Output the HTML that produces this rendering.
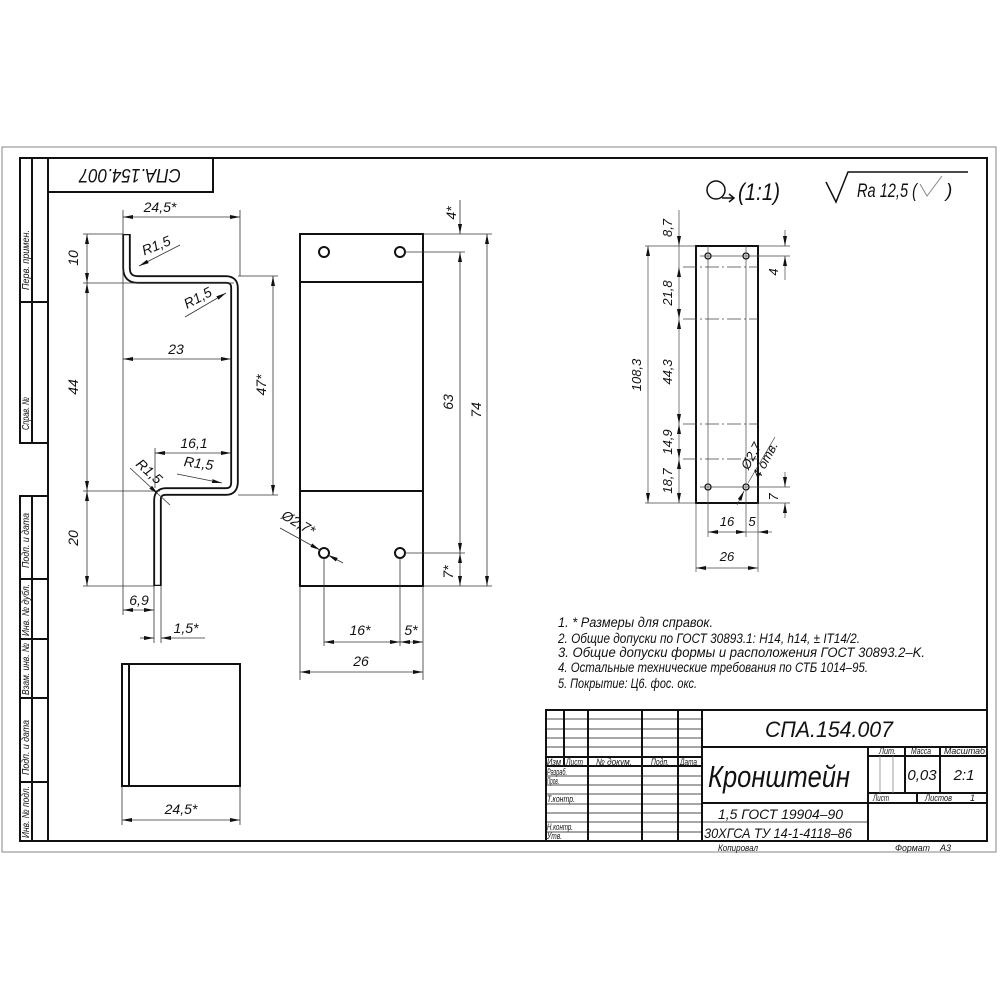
<!DOCTYPE html>
<html><head><meta charset="utf-8"><style>
html,body{margin:0;padding:0;background:#fff;width:1000px;height:1000px;overflow:hidden}
svg{display:block}
text{font-family:"Liberation Sans Narrow","Liberation Sans","Noto Sans CJK SC",sans-serif;font-style:italic;fill:#111}
</style></head><body>
<svg width="1000" height="1000" viewBox="0 0 1000 1000" xmlns="http://www.w3.org/2000/svg">
<defs>
<marker id="a" viewBox="0 0 10 4" refX="10" refY="2" markerWidth="10" markerHeight="4" markerUnits="userSpaceOnUse" orient="auto-start-reverse"><path d="M0,0 L10,2 L0,4z" fill="#111"/></marker>
</defs>
<rect x="2" y="147" width="994" height="705" fill="none" stroke="#999" stroke-width="1.2"/>
<g stroke="#111" fill="none" stroke-width="2">
<rect x="48" y="158" width="939" height="683"/>
<rect x="48" y="158" width="165" height="34"/>
<rect x="20" y="158" width="28" height="285"/>
<line x1="32" y1="158" x2="32" y2="443"/>
<line x1="20" y1="302" x2="48" y2="302"/>
<rect x="20" y="496" width="28" height="345"/>
<line x1="32" y1="496" x2="32" y2="841"/>
<line x1="20" y1="579" x2="48" y2="579"/>
<line x1="20" y1="639" x2="48" y2="639"/>
<line x1="20" y1="698" x2="48" y2="698"/>
<line x1="20" y1="782" x2="48" y2="782"/>
</g>
<g font-size="10">
<text transform="translate(29,290) rotate(-90)" textLength="60" lengthAdjust="spacingAndGlyphs">Перв. примен.</text>
<text transform="translate(29,430) rotate(-90)" textLength="33" lengthAdjust="spacingAndGlyphs">Справ. №</text>
<text transform="translate(29,568) rotate(-90)" textLength="55" lengthAdjust="spacingAndGlyphs">Подп. и дата</text>
<text transform="translate(29,636) rotate(-90)" textLength="52" lengthAdjust="spacingAndGlyphs">Инв. № дубл.</text>
<text transform="translate(29,695) rotate(-90)" textLength="52" lengthAdjust="spacingAndGlyphs">Взам. инв. №</text>
<text transform="translate(29,775) rotate(-90)" textLength="55" lengthAdjust="spacingAndGlyphs">Подп. и дата</text>
<text transform="translate(29,838) rotate(-90)" textLength="52" lengthAdjust="spacingAndGlyphs">Инв. № подл.</text>
</g>
<text transform="translate(181,169) rotate(180)" font-size="19" textLength="102" lengthAdjust="spacingAndGlyphs">СПА.154.007</text>

<path d="M126.5,234 V268 Q126.5,279.5 138,279.5 H226 Q234.5,279.5 234.5,288 V482 Q234.5,491.5 226,491.5 H166 Q157.5,491.5 157.5,500 V586" fill="none" stroke="#111" stroke-width="8.5"/>
<path d="M126.5,235.2 V268 Q126.5,279.5 138,279.5 H226 Q234.5,279.5 234.5,288 V482 Q234.5,491.5 226,491.5 H166 Q157.5,491.5 157.5,500 V584.8" fill="none" stroke="#fff" stroke-width="4.8"/>
<g stroke="#333" stroke-width="0.8" fill="none">
<line x1="123" y1="210" x2="123" y2="615"/>
<line x1="240" y1="210" x2="240" y2="276"/>
<line x1="83" y1="234" x2="123" y2="234"/>
<line x1="83" y1="283" x2="234" y2="283"/>
<line x1="238" y1="276" x2="278" y2="276"/>
<line x1="238" y1="495" x2="278" y2="495"/>
<line x1="83" y1="491" x2="160" y2="491"/>
<line x1="83" y1="586" x2="155" y2="586"/>
<line x1="155" y1="448" x2="155" y2="488"/>
<line x1="154" y1="586" x2="154" y2="643"/>
<line x1="161" y1="586" x2="161" y2="643"/>
<line x1="122" y1="786" x2="122" y2="825"/>
<line x1="240" y1="786" x2="240" y2="825"/>
<line x1="123" y1="217" x2="240" y2="217" marker-start="url(#a)" marker-end="url(#a)"/>
<line x1="87" y1="234" x2="87" y2="283" marker-start="url(#a)" marker-end="url(#a)"/>
<line x1="87" y1="283" x2="87" y2="491" marker-start="url(#a)" marker-end="url(#a)"/>
<line x1="87" y1="491" x2="87" y2="586" marker-start="url(#a)" marker-end="url(#a)"/>
<line x1="123" y1="359" x2="231" y2="359" marker-start="url(#a)" marker-end="url(#a)"/>
<line x1="273" y1="276" x2="273" y2="495" marker-start="url(#a)" marker-end="url(#a)"/>
<line x1="155" y1="453" x2="231" y2="453" marker-start="url(#a)" marker-end="url(#a)"/>
<line x1="123" y1="610" x2="154" y2="610" marker-start="url(#a)" marker-end="url(#a)"/>
<line x1="140" y1="638" x2="154" y2="638" marker-end="url(#a)"/>
<line x1="205" y1="638" x2="161" y2="638" marker-end="url(#a)"/>
<line x1="122" y1="820" x2="240" y2="820" marker-start="url(#a)" marker-end="url(#a)"/>
<line x1="180" y1="245" x2="139" y2="266" marker-end="url(#a)"/>
<line x1="185" y1="317" x2="226" y2="293" marker-end="url(#a)"/>
<line x1="177" y1="474" x2="222" y2="483" marker-end="url(#a)"/>
<line x1="130" y1="468" x2="158" y2="494" marker-end="url(#a)"/>
<line x1="158" y1="494" x2="170" y2="505"/>
</g>
<g font-size="14">
<text x="160" y="212" text-anchor="middle">24,5*</text>
<text transform="translate(158,250) rotate(-22)" text-anchor="middle">R1,5</text>
<text transform="translate(200,302) rotate(-28)" text-anchor="middle">R1,5</text>
<text transform="translate(198,468) rotate(8)" text-anchor="middle">R1,5</text>
<text transform="translate(146,475) rotate(42)" text-anchor="middle">R1,5</text>
<text transform="translate(78,258) rotate(-90)" text-anchor="middle">10</text>
<text transform="translate(78,387) rotate(-90)" text-anchor="middle">44</text>
<text transform="translate(78,538) rotate(-90)" text-anchor="middle">20</text>
<text transform="translate(266,385) rotate(-90)" text-anchor="middle">47*</text>
<text x="176" y="354" text-anchor="middle">23</text>
<text x="194" y="448" text-anchor="middle">16,1</text>
<text x="139" y="605" text-anchor="middle">6,9</text>
<text x="186" y="633" text-anchor="middle">1,5*</text>
<text x="181" y="814" text-anchor="middle">24,5*</text>
</g>
<g stroke="#111" stroke-width="2" fill="none">
<rect x="122" y="664" width="118" height="122"/>
<line x1="129" y1="664" x2="129" y2="786"/>
</g>

<g stroke="#111" stroke-width="2" fill="none">
<rect x="300" y="234" width="123" height="352"/>
<line x1="300" y1="282" x2="423" y2="282"/>
<line x1="300" y1="491" x2="423" y2="491"/>
<circle cx="324" cy="252" r="5"/><circle cx="400" cy="252" r="5"/>
<circle cx="324" cy="553" r="5"/><circle cx="400" cy="553" r="5"/>
</g>
<g stroke="#333" stroke-width="0.8" fill="none">
<line x1="423" y1="234" x2="492" y2="234"/>
<line x1="405" y1="252" x2="465" y2="252"/>
<line x1="405" y1="553" x2="465" y2="553"/>
<line x1="423" y1="586" x2="492" y2="586"/>
<line x1="460" y1="200" x2="460" y2="234" marker-end="url(#a)"/>
<line x1="460" y1="252" x2="460" y2="553" marker-start="url(#a)" marker-end="url(#a)"/>
<line x1="460" y1="553" x2="460" y2="586" marker-start="url(#a)" marker-end="url(#a)"/>
<line x1="487" y1="234" x2="487" y2="586" marker-start="url(#a)" marker-end="url(#a)"/>
<line x1="324" y1="558" x2="324" y2="646"/>
<line x1="400" y1="558" x2="400" y2="646"/>
<line x1="300" y1="586" x2="300" y2="680"/>
<line x1="423" y1="586" x2="423" y2="680"/>
<line x1="324" y1="642" x2="400" y2="642" marker-start="url(#a)" marker-end="url(#a)"/>
<line x1="400" y1="642" x2="423" y2="642" marker-start="url(#a)" marker-end="url(#a)"/>
<line x1="300" y1="672" x2="423" y2="672" marker-start="url(#a)" marker-end="url(#a)"/>
<line x1="280" y1="528" x2="320" y2="550" marker-end="url(#a)"/>
<line x1="343" y1="563" x2="328" y2="555" marker-end="url(#a)"/>
</g>
<g font-size="14">
<text transform="translate(456,213) rotate(-90)" text-anchor="middle">4*</text>
<text transform="translate(453,402) rotate(-90)" text-anchor="middle">63</text>
<text transform="translate(481,410) rotate(-90)" text-anchor="middle">74</text>
<text transform="translate(453,572) rotate(-90)" text-anchor="middle">7*</text>
<text x="360" y="635" text-anchor="middle">16*</text>
<text x="411" y="635" text-anchor="middle">5*</text>
<text x="361" y="666" text-anchor="middle">26</text>
<text transform="translate(296,527) rotate(30)" text-anchor="middle">Ø2,7*</text>
</g>

<g stroke="#111" stroke-width="2" fill="none">
<rect x="696" y="246" width="62" height="257"/>
</g>
<g stroke="#111" stroke-width="1.3" fill="none">
<circle cx="708" cy="256" r="3"/><circle cx="746" cy="256" r="3"/>
<circle cx="708" cy="487" r="3"/><circle cx="746" cy="487" r="3"/>
</g>
<g stroke="#444" stroke-width="0.7" fill="none">
<line x1="708" y1="246" x2="708" y2="537"/>
<line x1="746" y1="246" x2="746" y2="537"/>
<line x1="700" y1="256" x2="790" y2="256"/>
<line x1="700" y1="487" x2="790" y2="487"/>
<g stroke-dasharray="14,3,2,3">
<line x1="683" y1="267" x2="758" y2="267"/>
<line x1="683" y1="319" x2="758" y2="319"/>
<line x1="683" y1="424" x2="758" y2="424"/>
<line x1="683" y1="459" x2="758" y2="459"/>
</g>
<line x1="645" y1="246" x2="696" y2="246"/>
<line x1="645" y1="503" x2="696" y2="503"/>
<line x1="758" y1="246" x2="790" y2="246"/>
<line x1="758" y1="503" x2="790" y2="503"/>
<line x1="758" y1="503" x2="758" y2="572"/>
<line x1="696" y1="503" x2="696" y2="572"/>
<line x1="679" y1="210" x2="679" y2="246" marker-end="url(#a)"/>
<line x1="679" y1="246" x2="679" y2="267"/>
<line x1="679" y1="267" x2="679" y2="319" marker-start="url(#a)" marker-end="url(#a)"/>
<line x1="679" y1="319" x2="679" y2="424" marker-start="url(#a)" marker-end="url(#a)"/>
<line x1="679" y1="424" x2="679" y2="459" marker-start="url(#a)" marker-end="url(#a)"/>
<line x1="679" y1="459" x2="679" y2="503" marker-start="url(#a)" marker-end="url(#a)"/>
<line x1="648" y1="246" x2="648" y2="503" marker-start="url(#a)" marker-end="url(#a)"/>
<line x1="785" y1="230" x2="785" y2="246" marker-end="url(#a)"/>
<line x1="785" y1="280" x2="785" y2="256" marker-end="url(#a)"/>
<line x1="785" y1="472" x2="785" y2="487" marker-end="url(#a)"/>
<line x1="785" y1="518" x2="785" y2="503" marker-end="url(#a)"/>
<line x1="708" y1="532" x2="746" y2="532" marker-start="url(#a)" marker-end="url(#a)"/>
<line x1="772" y1="532" x2="758" y2="532" marker-end="url(#a)"/>
<line x1="746" y1="532" x2="758" y2="532"/>
<line x1="696" y1="568" x2="758" y2="568" marker-start="url(#a)" marker-end="url(#a)"/>
<line x1="737" y1="505" x2="744" y2="491" marker-end="url(#a)"/>
<line x1="748" y1="483" x2="775" y2="437"/>
</g>
<g font-size="13">
<text transform="translate(672,228) rotate(-90)" text-anchor="middle">8,7</text>
<text transform="translate(672,293) rotate(-90)" text-anchor="middle">21,8</text>
<text transform="translate(672,372) rotate(-90)" text-anchor="middle">44,3</text>
<text transform="translate(672,442) rotate(-90)" text-anchor="middle">14,9</text>
<text transform="translate(672,481) rotate(-90)" text-anchor="middle">18,7</text>
<text transform="translate(641,375) rotate(-90)" text-anchor="middle">108,3</text>
<text transform="translate(778,272) rotate(-90)" text-anchor="middle">4</text>
<text transform="translate(778,497) rotate(-90)" text-anchor="middle">7</text>
<text x="727" y="526" text-anchor="middle">16</text>
<text x="752" y="526" text-anchor="middle">5</text>
<text x="727" y="561" text-anchor="middle">26</text>
<text transform="translate(755,458) rotate(-62)" text-anchor="middle">Ø2,7</text>
<text transform="translate(769,462) rotate(-62)" text-anchor="middle">4 отв.</text>
</g>
<g stroke="#111" stroke-width="1.5" fill="none">
<circle cx="716" cy="190" r="9"/>
<path d="M722,198 L733,198 M729,194 L734,198 L729,202"/>
<path d="M826,182 L836,202 L848,172 L968,172"/>
</g>
<text x="738" y="200" font-size="24" textLength="42" lengthAdjust="spacingAndGlyphs">(1:1)</text>
<text x="857" y="197" font-size="19" textLength="60" lengthAdjust="spacingAndGlyphs">Ra  12,5 (</text>
<path d="M920,184 L927,196 L942,176" stroke="#888" stroke-width="1" fill="none"/>
<text x="946" y="197" font-size="19">)</text>

<g font-size="13.5">
<text x="558" y="627" textLength="155" lengthAdjust="spacingAndGlyphs">1.  * Размеры для справок.</text>
<text x="558" y="643" textLength="302" lengthAdjust="spacingAndGlyphs">2.  Общие допуски по ГОСТ 30893.1: H14, h14, ± IT14/2.</text>
<text x="558" y="657" textLength="367" lengthAdjust="spacingAndGlyphs">3.  Общие допуски формы и расположения ГОСТ 30893.2–K.</text>
<text x="558" y="672" textLength="310" lengthAdjust="spacingAndGlyphs">4.  Остальные технические требования по СТБ 1014–95.</text>
<text x="558" y="688" textLength="139" lengthAdjust="spacingAndGlyphs">5.  Покрытие: Ц6. фос. окс.</text>
</g>

<g stroke="#111" stroke-width="2" fill="none">
<rect x="546" y="710" width="441" height="131"/>
<line x1="702" y1="710" x2="702" y2="841"/>
<line x1="564" y1="710" x2="564" y2="766"/>
<line x1="588" y1="710" x2="588" y2="841"/>
<line x1="642" y1="710" x2="642" y2="841"/>
<line x1="678" y1="710" x2="678" y2="841"/>
<line x1="546" y1="757" x2="702" y2="757"/>
<line x1="546" y1="766" x2="702" y2="766"/>
<line x1="702" y1="747" x2="987" y2="747"/>
<line x1="868" y1="747" x2="868" y2="841"/>
<line x1="702" y1="803" x2="987" y2="803"/>
<line x1="868" y1="756" x2="987" y2="756"/>
<line x1="868" y1="793" x2="987" y2="793"/>
<line x1="905" y1="747" x2="905" y2="793"/>
<line x1="940" y1="747" x2="940" y2="793"/>
<line x1="917" y1="793" x2="917" y2="803"/>
</g>
<g stroke="#111" stroke-width="0.8" fill="none">
<line x1="546" y1="719" x2="702" y2="719"/>
<line x1="546" y1="729" x2="702" y2="729"/>
<line x1="546" y1="738" x2="702" y2="738"/>
<line x1="546" y1="747" x2="702" y2="747"/>
<line x1="546" y1="776" x2="702" y2="776"/>
<line x1="546" y1="785" x2="702" y2="785"/>
<line x1="546" y1="794" x2="702" y2="794"/>
<line x1="546" y1="804" x2="702" y2="804"/>
<line x1="546" y1="813" x2="702" y2="813"/>
<line x1="546" y1="822" x2="702" y2="822"/>
<line x1="546" y1="832" x2="702" y2="832"/>
<line x1="702" y1="822" x2="868" y2="822"/>
<line x1="880" y1="756" x2="880" y2="793" stroke="#888"/>
<line x1="893" y1="756" x2="893" y2="793" stroke="#888"/>
</g>
<g font-size="9">
<text x="547" y="765" textLength="14" lengthAdjust="spacingAndGlyphs">Изм</text>
<text x="566" y="765" textLength="17" lengthAdjust="spacingAndGlyphs">Лист</text>
<text x="596" y="765" textLength="36" lengthAdjust="spacingAndGlyphs">№ докум.</text>
<text x="651" y="765" textLength="18" lengthAdjust="spacingAndGlyphs">Подп.</text>
<text x="680" y="765" textLength="17" lengthAdjust="spacingAndGlyphs">Дата</text>
<text x="547" y="775" textLength="20" lengthAdjust="spacingAndGlyphs">Разраб.</text>
<text x="547" y="784" textLength="12" lengthAdjust="spacingAndGlyphs">Пров.</text>
<text x="547" y="802" textLength="28" lengthAdjust="spacingAndGlyphs">Т.контр.</text>
<text x="547" y="830" textLength="26" lengthAdjust="spacingAndGlyphs">Н.контр.</text>
<text x="547" y="839" textLength="15" lengthAdjust="spacingAndGlyphs">Утв.</text>
<text x="879" y="754" textLength="17" lengthAdjust="spacingAndGlyphs">Лит.</text>
<text x="911" y="754" textLength="20" lengthAdjust="spacingAndGlyphs">Масса</text>
<text x="944" y="754" textLength="41" lengthAdjust="spacingAndGlyphs">Масштаб</text>
<text x="873" y="801" textLength="16" lengthAdjust="spacingAndGlyphs">Лист</text>
<text x="925" y="801" textLength="27" lengthAdjust="spacingAndGlyphs">Листов</text>
<text x="970" y="801">1</text>
<text x="718" y="851" textLength="40" lengthAdjust="spacingAndGlyphs">Копировал</text>
<text x="895" y="851" textLength="35" lengthAdjust="spacingAndGlyphs">Формат</text>
<text x="940" y="851">A3</text>
</g>
<text x="765" y="737" font-size="22" textLength="128" lengthAdjust="spacingAndGlyphs">СПА.154.007</text>
<text x="708" y="787" font-size="31" textLength="142" lengthAdjust="spacingAndGlyphs">Кронштейн</text>
<text x="922" y="780" font-size="15" text-anchor="middle">0,03</text>
<text x="964" y="780" font-size="15" text-anchor="middle">2:1</text>
<text x="718" y="819" font-size="14" textLength="125" lengthAdjust="spacingAndGlyphs">1,5 ГОСТ 19904–90</text>
<text x="704" y="838" font-size="14" textLength="148" lengthAdjust="spacingAndGlyphs">30ХГСА ТУ 14-1-4118–86</text>
</svg>
</body></html>
